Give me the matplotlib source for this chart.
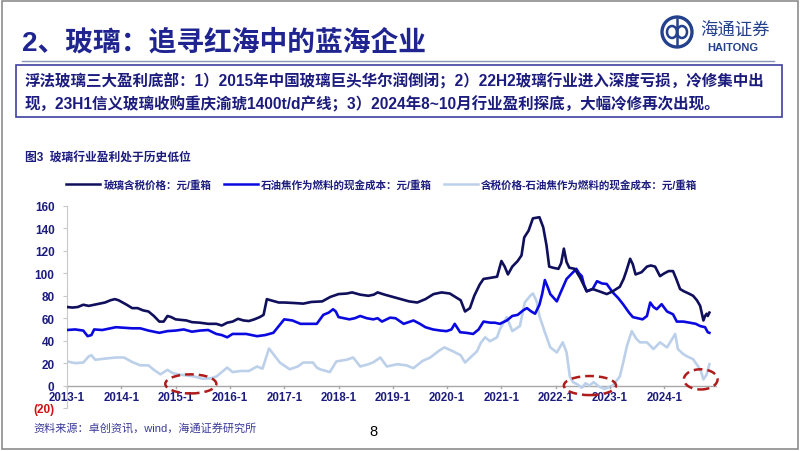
import matplotlib
matplotlib.use("Agg")
import matplotlib.pyplot as plt
from matplotlib.patches import Ellipse, Rectangle
from matplotlib.lines import Line2D

plt.rcParams['font.family'] = ['Liberation Sans', 'Noto Sans CJK SC', 'DejaVu Sans']

W, H = 802, 452

# ---- data (decimal years) ----
price_x = [2013.0, 2013.1, 2013.2, 2013.3, 2013.4, 2013.5, 2013.6, 2013.7, 2013.8, 2013.88,
           2013.95, 2014.1, 2014.2, 2014.3, 2014.4, 2014.5, 2014.6, 2014.7, 2014.78, 2014.85,
           2014.92, 2015.0, 2015.1, 2015.2, 2015.3, 2015.45, 2015.6, 2015.75, 2015.85, 2015.95,
           2016.05, 2016.15, 2016.25, 2016.35, 2016.45, 2016.55, 2016.62, 2016.68, 2016.75, 2016.9,
           2017.0, 2017.2, 2017.35, 2017.5, 2017.7, 2017.85, 2018.0, 2018.15, 2018.25, 2018.4,
           2018.55, 2018.65, 2018.72, 2018.85, 2019.0, 2019.15, 2019.3, 2019.45, 2019.6, 2019.75,
           2019.9, 2020.05, 2020.15, 2020.25, 2020.33, 2020.42, 2020.5, 2020.6, 2020.67, 2020.8,
           2020.92, 2021.0, 2021.06, 2021.12, 2021.2, 2021.3, 2021.37, 2021.42, 2021.5, 2021.58,
           2021.7, 2021.77, 2021.83, 2021.88, 2021.95, 2022.05, 2022.1, 2022.15, 2022.2, 2022.25,
           2022.35, 2022.45, 2022.52, 2022.57, 2022.68, 2022.8, 2022.94, 2023.05, 2023.18, 2023.25,
           2023.3, 2023.37, 2023.42, 2023.47, 2023.58, 2023.68, 2023.75, 2023.83, 2023.92, 2024.0,
           2024.08, 2024.16, 2024.22, 2024.29, 2024.36, 2024.45, 2024.53, 2024.6, 2024.66, 2024.72,
           2024.75, 2024.78, 2024.8, 2024.83]
price_y = [70, 69.5, 70, 72, 71, 72, 73, 74, 76, 77,
           76, 72, 69, 69, 67, 66, 62, 57, 57, 62,
           61, 59, 58.5, 58, 56.5, 56, 55, 55, 53.5, 56,
           57, 59.5, 58, 57.5, 59, 61, 63, 77, 76, 74,
           74, 73.5, 73, 74.5, 75, 79, 81.5, 82, 83, 81,
           80, 81, 83, 81, 79, 77, 75, 74, 77, 81.5,
           83, 82, 79, 76, 66, 69, 80, 90, 95, 96,
           97, 111, 106, 99, 106, 111, 116, 132, 138, 149,
           150, 141, 125, 106, 105, 104, 109, 122, 110, 105,
           104, 96, 89, 84, 86, 84, 81.5, 84, 88, 95,
           102, 113, 108, 99, 101, 106, 107, 106, 97.5, 100,
           102, 102, 95, 86, 84, 82, 80, 76, 71, 58,
           62, 64, 62, 65]

cost_x = [2013.0, 2013.15, 2013.3, 2013.38, 2013.45, 2013.5, 2013.65, 2013.8, 2013.9, 2014.05,
          2014.2, 2014.35, 2014.5, 2014.7, 2014.85, 2015.0, 2015.15, 2015.3, 2015.45, 2015.6,
          2015.75, 2015.85, 2015.95, 2016.05, 2016.3, 2016.5, 2016.65, 2016.8, 2016.9, 2017.0,
          2017.15, 2017.3, 2017.45, 2017.6, 2017.72, 2017.82, 2017.9, 2017.95, 2018.0, 2018.1,
          2018.2, 2018.3, 2018.4, 2018.52, 2018.64, 2018.72, 2018.8, 2018.95, 2019.05, 2019.2,
          2019.38, 2019.5, 2019.6, 2019.74, 2019.88, 2019.99, 2020.08, 2020.14, 2020.24, 2020.35,
          2020.48, 2020.58, 2020.67, 2020.8, 2020.88, 2020.97, 2021.1, 2021.2, 2021.3, 2021.4,
          2021.47, 2021.55, 2021.62, 2021.7, 2021.75, 2021.8, 2021.85, 2021.9, 2022.02, 2022.1,
          2022.2, 2022.32, 2022.38, 2022.43, 2022.48, 2022.52, 2022.57, 2022.68, 2022.76, 2022.85,
          2022.94, 2023.05, 2023.15, 2023.24, 2023.35, 2023.42, 2023.6, 2023.68, 2023.74, 2023.8,
          2023.86, 2023.95, 2024.05, 2024.16, 2024.23, 2024.35, 2024.47, 2024.58, 2024.66, 2024.75,
          2024.8, 2024.83]
cost_y = [49.5, 50, 49, 44, 45, 50, 49.5, 51, 52, 51.5,
          51, 51, 49, 47, 48.5, 49, 50, 48, 49, 49.5,
          46, 45, 43, 46, 46, 44, 45, 47, 53, 59,
          58, 55, 55, 55, 63, 65, 68, 66, 61, 60,
          59, 60, 62, 60, 59, 60, 57, 60.5, 60, 55,
          58, 55, 52, 50, 49, 48.5, 50, 55, 47.5, 47,
          46, 50, 57, 56, 56, 55, 58, 62, 63, 67,
          69, 66, 64, 72, 81.5, 94, 88, 81.5, 75, 84,
          95, 101, 104, 100, 97.5, 90, 84, 86, 93, 91,
          90.5, 83, 78, 72.5, 65, 61, 59, 62, 74, 70,
          68, 72.5, 66, 63.5, 57, 57, 56, 55, 53, 52,
          47.5, 47]

margin_x = [2013.0, 2013.15, 2013.3, 2013.4, 2013.45, 2013.52, 2013.7, 2013.9, 2014.05, 2014.2,
            2014.35, 2014.5, 2014.6, 2014.72, 2014.85, 2014.95, 2015.05, 2015.2, 2015.35, 2015.5,
            2015.65, 2015.75, 2015.85, 2015.95, 2016.05, 2016.2, 2016.35, 2016.5, 2016.6, 2016.66,
            2016.72, 2016.8, 2016.92, 2017.1, 2017.25, 2017.35, 2017.53, 2017.6, 2017.66, 2017.84,
            2017.96, 2018.15, 2018.27, 2018.4, 2018.55, 2018.65, 2018.77, 2018.89, 2019.08, 2019.25,
            2019.38, 2019.55, 2019.69, 2019.85, 2019.95, 2020.11, 2020.25, 2020.33, 2020.45, 2020.55,
            2020.62, 2020.7, 2020.79, 2020.92, 2020.97, 2021.05, 2021.1, 2021.2, 2021.34, 2021.43,
            2021.53, 2021.58, 2021.65, 2021.7, 2021.8, 2021.9, 2022.02, 2022.13, 2022.2, 2022.26,
            2022.32, 2022.4, 2022.48, 2022.55, 2022.62, 2022.7, 2022.8, 2022.9, 2023.05, 2023.18,
            2023.25, 2023.31, 2023.4, 2023.48, 2023.55, 2023.68, 2023.8, 2023.92, 2024.05, 2024.2,
            2024.25, 2024.35, 2024.42, 2024.53, 2024.63, 2024.68, 2024.72, 2024.78, 2024.83]
margin_y = [21.5, 20, 20.5, 26, 27, 23, 24, 25, 25, 21,
            18, 18, 14, 10, 14, 11, 10, 9, 8, 6,
            6.5, 8, 12, 16, 12, 13, 13, 17, 15, 24,
            33, 28, 20.5, 14.5, 17, 20.5, 20.5, 16, 14.5, 12,
            21.5, 23, 25, 17, 19, 21, 25, 17, 19, 18,
            15.5, 22, 25, 31, 34, 30.5, 27, 20.5, 26, 30.5,
            38, 43, 39.5, 43, 50, 57, 61, 48.5, 53, 74,
            80, 82, 75, 62, 47.5, 34, 29.5, 38.5, 29.5, 8,
            3, 1, -2, 2, 0, 3, -1, -3, 0, 8,
            22, 35, 48.5, 42, 38.5, 38.5, 32.5, 38.5, 34, 46,
            32.5, 28, 26, 23.5, 16.5, 12, 5.5, 10, 19]

years = list(range(2013, 2025))
year_labels = [f"{y}-1" for y in years]
y_ticks = [-20, 0, 20, 40, 60, 80, 100, 120, 140, 160]
y_labels = ["(20)", "0", "20", "40", "60", "80", "100", "120", "140", "160"]

series_names = ["玻璃含税价格：元/重箱", "石油焦作为燃料的现金成本：元/重箱",
                "含税价格-石油焦作为燃料的现金成本：元/重箱"]
COL = ["#0F0F5C", "#0A0AE0", "#BCD0EA"]

# low points circled in the report: (centre year, centre value, width yr, height)
lows = [(2015.28, 1.5, 0.94, 17), (2022.63, 0, 0.96, 17), (2024.67, 5.5, 0.62, 18)]

NAVY = "#1C1C7E"
LOGO = "#23418C"


def fx(px):
    return px / W


def fy(py):
    return 1 - py / H


fig = plt.figure(figsize=(W / 100, H / 100), dpi=100)

# slide frame
fig.add_artist(Rectangle((fx(1.5), fy(450)), fx(796), 448 / H, transform=fig.transFigure,
                         fill=False, ec="#8C8C8C", lw=1.2))

fig.text(fx(22), fy(43), "2、玻璃：追寻红海中的蓝海企业", fontsize=20, fontweight="bold",
         color="#1F2490", va="center", ha="left")
fig.add_artist(Line2D([fx(22), fx(774)], [fy(62), fy(62)], transform=fig.transFigure,
                      color="#8A96B8", lw=1))

# logo (rough)
fig.add_artist(Ellipse((fx(677), fy(33)), 30 / W, 30 / H, transform=fig.transFigure,
                       fill=False, ec=LOGO, lw=2.4))
for dx in (-5, 5):
    fig.add_artist(Ellipse((fx(677 + dx), fy(33)), 10 / W, 12 / H, transform=fig.transFigure,
                           fill=False, ec=LOGO, lw=1.8))
fig.add_artist(Line2D([fx(677), fx(677)], [fy(20), fy(46)], transform=fig.transFigure,
                      color=LOGO, lw=1.8))
fig.text(fx(735), fy(31), "海通证券", fontsize=12.5, color=LOGO, ha="center", va="center",
         style="italic")
fig.text(fx(733), fy(48), "HAITONG", fontsize=8, color=LOGO, ha="center", va="center",
         fontweight="bold")

# text box
fig.add_artist(Rectangle((fx(16), fy(118)), fx(766), 52 / H, transform=fig.transFigure,
                         fill=False, ec="#4040A0", lw=1.2))
fig.text(fx(25), fy(81), "浮法玻璃三大盈利底部：1）2015年中国玻璃巨头华尔润倒闭；2）22H2玻璃行业进入深度亏损，冷修集中出",
         fontsize=11.2, fontweight="bold", color=NAVY, va="center", ha="left")
fig.text(fx(25), fy(104), "现，23H1信义玻璃收购重庆渝琥1400t/d产线；3）2024年8~10月行业盈利探底，大幅冷修再次出现。",
         fontsize=11.2, fontweight="bold", color=NAVY, va="center", ha="left")

fig.text(fx(25), fy(158), "图3  玻璃行业盈利处于历史低位", fontsize=8.5, fontweight="bold",
         color=NAVY, va="center", ha="left")

# chart
ax = fig.add_axes([fx(67), fy(409), fx(650), 202 / H])
ax.plot(margin_x, margin_y, color=COL[2], lw=1.9, label=series_names[2], zorder=2)
ax.plot(cost_x, cost_y, color=COL[1], lw=1.9, label=series_names[1], zorder=3)
ax.plot(price_x, price_y, color=COL[0], lw=1.9, label=series_names[0], zorder=4)

for cx, cy, w, h in lows:
    ax.add_patch(Ellipse((cx, cy), w, h, fill=False, ec="#B01C1C", lw=1.8, ls=(0, (3.5, 2)),
                         zorder=6, clip_on=False))

ax.set_xlim(2013.0, 2024.97)
ax.set_ylim(-20, 160)
for s in ["top", "right", "bottom"]:
    ax.spines[s].set_visible(False)
ax.spines["left"].set_color("#C8C8C8")
ax.axhline(0, color="#A8A8A8", lw=1, zorder=1)

ax.set_yticks(y_ticks)
ax.set_yticklabels(y_labels, fontsize=8.5, fontweight="bold", color=NAVY)
ax.get_yticklabels()[0].set_color("#D01010")
ax.tick_params(axis="y", length=3, color="#C8C8C8", pad=6)

ax.set_xticks(years)
ax.set_xticklabels([])
ax.tick_params(axis="x", length=0)
for yr, lab in zip(years, year_labels):
    ax.plot([yr, yr], [0, -2.5], color="#A8A8A8", lw=1, clip_on=False)
    ax.text(yr, -4.6, lab, ha="center", va="top", fontsize=8.3, fontweight="bold", color=NAVY)

handles = [Line2D([], [], color=COL[i], lw=1.8) for i in range(3)]
fig.legend(handles, series_names, loc="center", bbox_to_anchor=(fx(382), fy(185)), ncol=3,
           frameon=False, handlelength=3.2, handletextpad=0.3, columnspacing=1.2,
           prop={"size": 7.6, "weight": "bold"}, labelcolor=NAVY)

fig.text(fx(33), fy(429), "资料来源：卓创资讯，wind，海通证券研究所", fontsize=8,
         color="#3A3A9A", va="center", ha="left")
fig.text(fx(373), fy(432), "8", fontsize=10.5, color="black", va="center", ha="center")

fig.savefig("out.png", dpi=100)
